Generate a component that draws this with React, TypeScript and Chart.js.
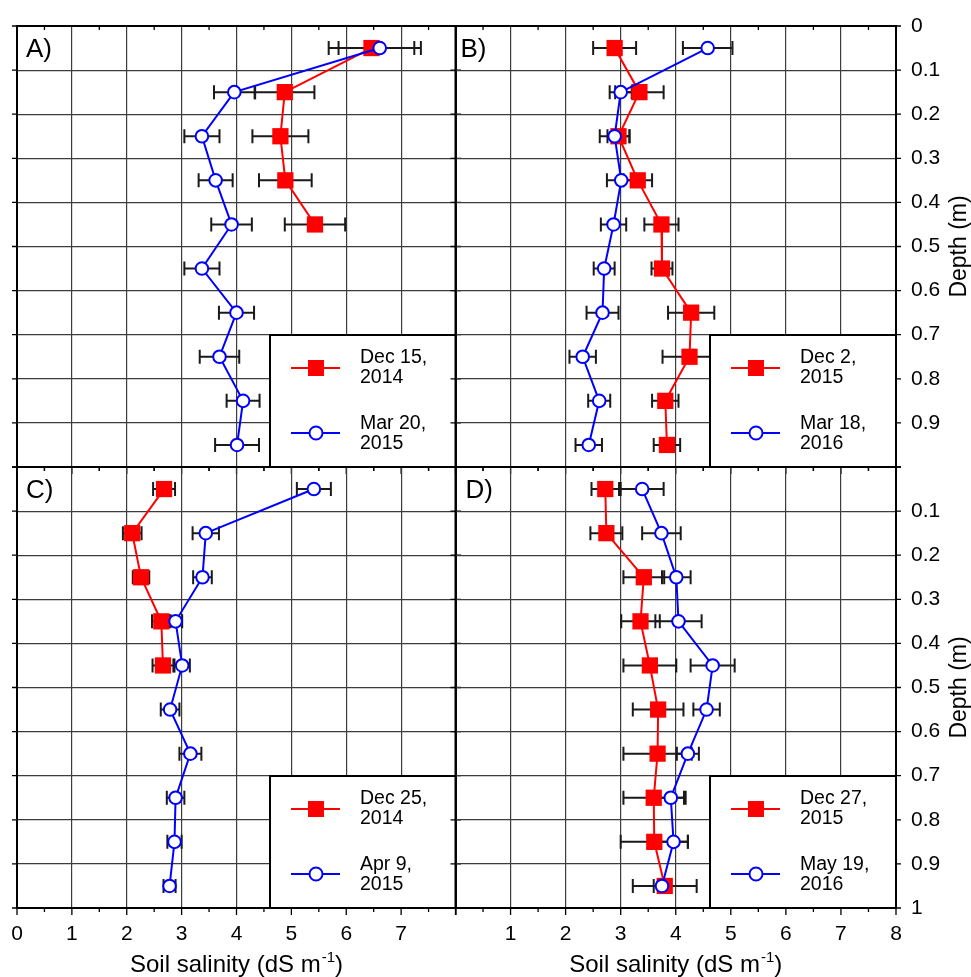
import React, { useEffect, useRef } from 'react';
import { Chart, registerables } from 'chart.js';
Chart.register(...registerables);

const FONT = "'Liberation Sans', Arial, Helvetica, sans-serif";

// Depths (m)
const depthsAll = [0.05, 0.15, 0.25, 0.35, 0.45, 0.55, 0.65, 0.75, 0.85, 0.95];
const depthsTop = [0.05, 0.15, 0.25, 0.35, 0.45];

// Panel A
const redA = [6.46, 4.88, 4.80, 4.89, 5.43];
const redErrA = [0.78, 0.54, 0.51, 0.48, 0.55];
const blueA = [6.61, 3.96, 3.37, 3.62, 3.91, 3.37, 4.00, 3.69, 4.12, 4.01];
const blueErrA = [0.75, 0.37, 0.32, 0.31, 0.37, 0.32, 0.32, 0.36, 0.30, 0.40];

// Panel B
const redB = [2.89, 3.34, 2.96, 3.31, 3.74, 3.75, 4.28, 4.25, 3.81, 3.84];
const redErrB = [0.39, 0.44, 0.20, 0.26, 0.31, 0.19, 0.42, 0.49, 0.24, 0.24];
const blueB = [4.58, 3.00, 2.89, 3.01, 2.87, 2.70, 2.67, 2.31, 2.61, 2.42];
const blueErrB = [0.45, 0.20, 0.27, 0.26, 0.23, 0.19, 0.29, 0.24, 0.20, 0.24];

// Panel C
const redC = [2.68, 2.10, 2.26, 2.63, 2.66];
const redErrC = [0.20, 0.17, 0.15, 0.17, 0.19];
const blueC = [5.41, 3.44, 3.38, 2.89, 3.01, 2.79, 3.16, 2.89, 2.87, 2.78];
const blueErrC = [0.31, 0.24, 0.17, 0.12, 0.14, 0.17, 0.20, 0.16, 0.13, 0.11];

// Panel D
const redD = [2.72, 2.74, 3.42, 3.36, 3.53, 3.68, 3.67, 3.60, 3.61, 3.80];
const redErrD = [0.25, 0.29, 0.37, 0.35, 0.48, 0.46, 0.62, 0.55, 0.61, 0.58];
const blueD = [3.39, 3.74, 4.01, 4.05, 4.67, 4.56, 4.22, 3.91, 3.96, 3.75];
const blueErrD = [0.39, 0.35, 0.26, 0.42, 0.40, 0.24, 0.20, 0.27, 0.26, 0.15];

// Legends
const legendA = [['Dec 15,', '2014'], ['Mar 20,', '2015']];
const legendB = [['Dec 2,', '2015'], ['Mar 18,', '2016']];
const legendC = [['Dec 25,', '2014'], ['Apr 9,', '2015']];
const legendD = [['Dec 27,', '2015'], ['May 19,', '2016']];

const xTitle = 'Soil salinity (dS m';
const xTitleSup = '-1';
const yTitle = 'Depth (m)';

const RED = '#ff0000';
const BLUE = '#0000ff';
const GRID = '#3c3c3c';

type PanelCfg = {
  label: string;
  labelDx: number;
  left: number; top: number; width: number; height: number;
  pad: { left: number; top: number; right: number; bottom: number };
  xH: number; yW: number;
  xLabels: boolean; yRight: boolean;
  hideX: number | null; hideY: number | null;
  redDepth: number[]; red: number[]; redErr: number[];
  blueDepth: number[]; blue: number[]; blueErr: number[];
  legend: string[][];
};

const panels: PanelCfg[] = [
  { label: 'A)', labelDx: 9, left: 0, top: 0, width: 462, height: 474,
    pad: { left: 17, top: 26, right: 6, bottom: 7 }, xH: 0, yW: 0,
    xLabels: false, yRight: false, hideX: null, hideY: null,
    redDepth: depthsTop, red: redA, redErr: redErrA,
    blueDepth: depthsAll, blue: blueA, blueErr: blueErrA, legend: legendA },
  { label: 'B)', labelDx: 5, left: 450, top: 0, width: 521, height: 474,
    pad: { left: 5.5, top: 26, right: 0, bottom: 7 }, xH: 0, yW: 75,
    xLabels: false, yRight: true, hideX: null, hideY: 1,
    redDepth: depthsAll, red: redB, redErr: redErrB,
    blueDepth: depthsAll, blue: blueB, blueErr: blueErrB, legend: legendB },
  { label: 'C)', labelDx: 9, left: 0, top: 460, width: 462, height: 517,
    pad: { left: 17, top: 7, right: 6, bottom: 0 }, xH: 69, yW: 0,
    xLabels: true, yRight: false, hideX: 8, hideY: null,
    redDepth: depthsTop, red: redC, redErr: redErrC,
    blueDepth: depthsAll, blue: blueC, blueErr: blueErrC, legend: legendC },
  { label: 'D)', labelDx: 10, left: 450, top: 460, width: 521, height: 517,
    pad: { left: 5.5, top: 7, right: 0, bottom: 0 }, xH: 69, yW: 75,
    xLabels: true, yRight: true, hideX: 0, hideY: 0,
    redDepth: depthsAll, red: redD, redErr: redErrD,
    blueDepth: depthsAll, blue: blueD, blueErr: blueErrD, legend: legendD },
];

const errorBarPlugin = {
  id: 'errorBars',
  beforeDatasetsDraw(chart: any) {
    const ctx = chart.ctx;
    const xs = chart.scales.x;
    const ys = chart.scales.y;
    ctx.save();
    ctx.strokeStyle = '#1a1a1a';
    ctx.lineWidth = 2;
    chart.data.datasets.forEach((ds: any) => {
      const errs: number[] = ds.errs || [];
      ds.data.forEach((p: any, i: number) => {
        const e = errs[i] || 0;
        const y = ys.getPixelForValue(p.y);
        const x0 = xs.getPixelForValue(p.x - e);
        const x1 = xs.getPixelForValue(p.x + e);
        ctx.beginPath();
        ctx.moveTo(x0, y); ctx.lineTo(x1, y);
        ctx.moveTo(x0, y - 7); ctx.lineTo(x0, y + 7);
        ctx.moveTo(x1, y - 7); ctx.lineTo(x1, y + 7);
        ctx.stroke();
      });
    });
    ctx.restore();
  },
};

const decorPlugin = {
  id: 'decor',
  afterDatasetsDraw(chart: any, _args: any, opts: any) {
    const cfg: PanelCfg = opts.cfg;
    const ctx = chart.ctx;
    const { left, top, right, bottom } = chart.chartArea;
    const xs = chart.scales.x;
    const ys = chart.scales.y;
    ctx.save();

    // legend box
    const L = right - 186;
    const T = bottom - 132;
    ctx.fillStyle = '#ffffff';
    ctx.fillRect(L, T, right - L, bottom - T);
    ctx.strokeStyle = '#000';
    ctx.lineWidth = 2;
    ctx.strokeRect(L, T, right - L, bottom - T);
    // red sample
    const ry = T + 33;
    ctx.strokeStyle = RED;
    ctx.lineWidth = 2;
    ctx.beginPath(); ctx.moveTo(L + 21, ry); ctx.lineTo(L + 70, ry); ctx.stroke();
    ctx.fillStyle = RED;
    ctx.fillRect(L + 46 - 8, ry - 8, 16, 16);
    // blue sample
    const by = T + 98;
    ctx.strokeStyle = BLUE;
    ctx.beginPath(); ctx.moveTo(L + 21, by); ctx.lineTo(L + 70, by); ctx.stroke();
    ctx.fillStyle = '#fff';
    ctx.beginPath(); ctx.arc(L + 46, by, 6.5, 0, Math.PI * 2); ctx.fill(); ctx.stroke();
    // legend text
    ctx.fillStyle = '#000';
    ctx.font = `19.5px ${FONT}`;
    ctx.textAlign = 'left';
    ctx.textBaseline = 'alphabetic';
    ctx.fillText(cfg.legend[0][0], L + 90, T + 28);
    ctx.fillText(cfg.legend[0][1], L + 90, T + 47.5);
    ctx.fillText(cfg.legend[1][0], L + 90, T + 94);
    ctx.fillText(cfg.legend[1][1], L + 90, T + 114);

    // frame
    ctx.strokeStyle = '#000';
    ctx.lineWidth = 2;
    ctx.strokeRect(left, top, right - left, bottom - top);

    // outward tick marks
    ctx.lineWidth = 1.3;
    ctx.beginPath();
    for (let k = 0; k <= 16; k++) {
      const v = k / 2;
      const x = xs.getPixelForValue(v);
      const len = k % 2 === 0 ? 7 : 4;
      ctx.moveTo(x, bottom); ctx.lineTo(x, bottom + len);
      if (k % 2 === 1) { ctx.moveTo(x, top); ctx.lineTo(x, top + 4); }
    }
    for (let k = 0; k <= 10; k++) {
      const y = ys.getPixelForValue(k / 10);
      ctx.moveTo(left - 5, y); ctx.lineTo(left, y);
      ctx.moveTo(right, y); ctx.lineTo(right + 5, y);
    }
    ctx.stroke();

    // panel label
    ctx.fillStyle = '#000';
    ctx.font = `26px ${FONT}`;
    ctx.fillText(cfg.label, left + cfg.labelDx, top + 31);

    // x title
    if (cfg.xLabels) {
      const cx = (left + right) / 2;
      const baseY = 972 - cfg.top;
      ctx.font = `24px ${FONT}`;
      const w1 = ctx.measureText(xTitle).width;
      ctx.font = `15px ${FONT}`;
      const w2 = ctx.measureText(xTitleSup).width;
      ctx.font = `24px ${FONT}`;
      const w3 = ctx.measureText(')').width;
      const tot = w1 + w2 + w3 + 1;
      let x = cx - tot / 2;
      ctx.fillText(xTitle, x, baseY);
      x += w1 + 1;
      ctx.font = `15px ${FONT}`;
      ctx.fillText(xTitleSup, x, baseY - 10);
      x += w2;
      ctx.font = `24px ${FONT}`;
      ctx.fillText(')', x, baseY);
    }

    // y title (right, reading bottom-to-top)
    if (cfg.yRight) {
      ctx.save();
      ctx.translate(960 - cfg.left, (top + bottom) / 2);
      ctx.rotate(-Math.PI / 2);
      ctx.font = `23px ${FONT}`;
      ctx.textAlign = 'center';
      ctx.textBaseline = 'middle';
      ctx.fillText(yTitle, 0, 0);
      ctx.restore();
    }
    ctx.restore();
  },
};

const zeroPad = (s: any) => {
  s.paddingLeft = 0;
  s.paddingRight = 0;
  s.paddingTop = 0;
  s.paddingBottom = 0;
};

function Panel({ cfg }: { cfg: PanelCfg }) {
  const ref = useRef<HTMLCanvasElement | null>(null);
  useEffect(() => {
    if (!ref.current) return;
    const chart = new Chart(ref.current, {
      type: 'line',
      data: {
        datasets: [
          {
            label: 'red',
            data: cfg.redDepth.map((d, i) => ({ x: cfg.red[i], y: d })),
            borderColor: RED,
            backgroundColor: RED,
            borderWidth: 2,
            pointStyle: 'rect',
            pointRadius: 11.5,
            pointBorderWidth: 0,
            pointBackgroundColor: RED,
            pointBorderColor: RED,
            tension: 0,
            fill: false,
            order: 1,
            clip: false,
            errs: cfg.redErr,
          } as any,
          {
            label: 'blue',
            data: cfg.blueDepth.map((d, i) => ({ x: cfg.blue[i], y: d })),
            borderColor: BLUE,
            backgroundColor: '#ffffff',
            borderWidth: 2,
            pointStyle: 'circle',
            pointRadius: 6.3,
            pointBorderWidth: 2,
            pointBackgroundColor: '#ffffff',
            pointBorderColor: BLUE,
            tension: 0,
            fill: false,
            order: 0,
            clip: false,
            errs: cfg.blueErr,
          } as any,
        ],
      },
      options: {
        responsive: false,
        animation: false,
        devicePixelRatio: 1,
        layout: { padding: cfg.pad, autoPadding: false },
        plugins: {
          legend: { display: false },
          tooltip: { enabled: false },
          decor: { cfg },
        } as any,
        scales: {
          x: {
            type: 'linear',
            min: 0,
            max: 8,
            position: 'bottom',
            ticks: {
              stepSize: 0.5,
              autoSkip: false,
              maxRotation: 0,
              display: cfg.xLabels,
              padding: 14,
              color: '#000',
              font: { size: 21, family: FONT },
              callback: (v: any) => {
                const n = Number(v);
                if (!Number.isInteger(n) || n === cfg.hideX) return '';
                return String(n);
              },
            },
            grid: {
              color: (c: any) => (c.tick && Number.isInteger(c.tick.value) ? GRID : 'rgba(0,0,0,0)'),
              lineWidth: 1.2,
              drawTicks: false,
            },
            border: { display: false },
            afterFit: (s: any) => { s.height = cfg.xH; zeroPad(s); },
          },
          y: {
            type: 'linear',
            min: 0,
            max: 1,
            reverse: true,
            position: cfg.yRight ? 'right' : 'left',
            ticks: {
              stepSize: 0.1,
              autoSkip: false,
              display: cfg.yRight,
              padding: 15,
              color: '#000',
              font: { size: 21, family: FONT },
              callback: (v: any) => {
                const r = Math.round(Number(v) * 10) / 10;
                if (r === cfg.hideY) return '';
                return String(r);
              },
            },
            grid: { color: GRID, lineWidth: 1.2, drawTicks: false },
            border: { display: false },
            afterFit: (s: any) => { s.width = cfg.yW; zeroPad(s); },
          },
        },
      } as any,
      plugins: [errorBarPlugin, decorPlugin],
    });
    return () => chart.destroy();
  }, [cfg]);
  return (
    <canvas
      ref={ref}
      width={cfg.width}
      height={cfg.height}
      style={{ position: 'absolute', left: cfg.left, top: cfg.top, width: cfg.width, height: cfg.height }}
    />
  );
}

export default function App() {
  return (
    <div style={{ position: 'absolute', left: 0, top: 0, width: 971, height: 977, background: '#fff', overflow: 'hidden' }}>
      {panels.map((p) => (
        <Panel key={p.label} cfg={p} />
      ))}
    </div>
  );
}
